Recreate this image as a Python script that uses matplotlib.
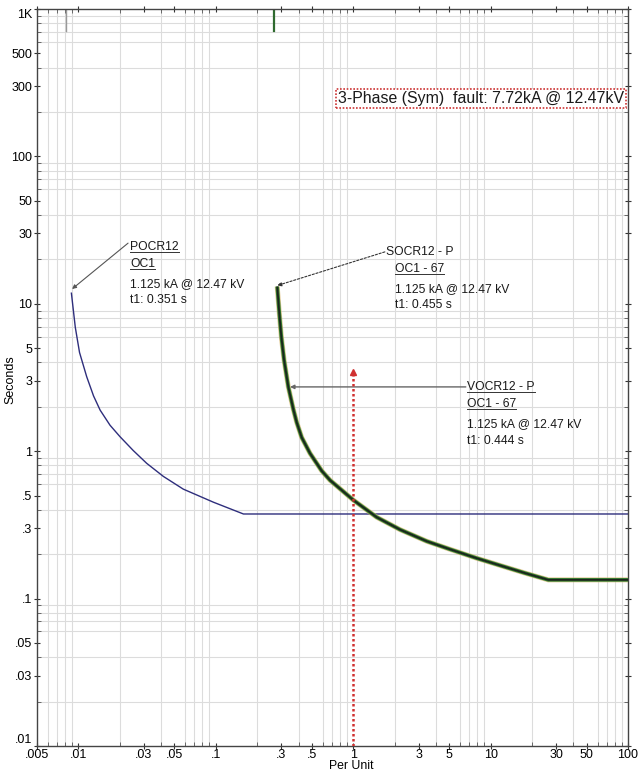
import matplotlib
matplotlib.use("Agg")
import matplotlib.pyplot as plt
import numpy as np
from matplotlib.ticker import FixedLocator, LogLocator, NullFormatter
from matplotlib.lines import Line2D

plt.rcParams['font.family'] = ['Liberation Sans', 'DejaVu Sans']

# POCR12 / OC1 curve (per unit, seconds)
pocr_pu = [0.0089, 0.0095, 0.0102, 0.0115, 0.0129, 0.0144, 0.0170, 0.0201, 0.0251,
           0.0314, 0.0415, 0.058, 0.096, 0.159, 100]
pocr_sec = [11.8, 6.92, 4.67, 3.20, 2.37, 1.90, 1.50, 1.254, 1.01,
            0.828, 0.675, 0.553, 0.451, 0.375, 0.375]

# SOCR12 - P / VOCR12 - P (OC1 - 67) curves, drawn on top of each other
socr_pu = [0.28, 0.290, 0.300, 0.314, 0.337, 0.367, 0.388, 0.422, 0.485, 0.59, 0.679,
           1.0, 1.48, 2.19, 3.43, 5.07, 7.92, 11.7, 17.8, 26.3, 100]
socr_sec = [13.1, 8.6, 5.98, 4.16, 2.74, 1.92, 1.57, 1.24, 0.968, 0.736, 0.635,
            0.467, 0.357, 0.294, 0.245, 0.216, 0.188, 0.168, 0.149, 0.134, 0.134]
vocr_pu = socr_pu
vocr_sec = socr_sec

# short marks at the top of the plot
top_marks_pu = [0.0081, 0.266]
top_marks_sec = [(710, 1000), (710, 1000)]

# fault current marker
fault_pu = 1.0
fault_top = 3.45

xticks = [0.005, 0.01, 0.03, 0.05, 0.1, 0.3, 0.5, 1, 3, 5, 10, 30, 50, 100]
xlabels = ['.005', '.01', '.03', '.05', '.1', '.3', '.5', '1', '3', '5', '10', '30', '50', '100']
yticks = [1000, 500, 300, 100, 50, 30, 10, 5, 3, 1, 0.5, 0.3, 0.1, 0.05, 0.03, 0.01]
ylabels = ['1K', '500', '300', '100', '50', '30', '10', '5', '3', '1', '.5', '.3', '.1', '.05', '.03', '.01']

fig = plt.figure(figsize=(6.38, 7.72), dpi=100)
ax = fig.add_axes([37/638, 1-746/772, 591/638, 737/772])
ax.set_xscale('log')
ax.set_yscale('log')
ax.set_xlim(0.005, 100)
ax.set_ylim(0.01, 1000)

# grid
ax.xaxis.set_minor_locator(LogLocator(base=10, subs=np.arange(1, 10)))
ax.yaxis.set_minor_locator(LogLocator(base=10, subs=np.arange(1, 10)))
ax.xaxis.set_minor_formatter(NullFormatter())
ax.yaxis.set_minor_formatter(NullFormatter())
ax.grid(True, which='minor', color='#dcdcdc', lw=0.8)
ax.set_axisbelow(True)
ax.xaxis.set_major_locator(FixedLocator(xticks))
ax.yaxis.set_major_locator(FixedLocator(yticks))
ax.set_xticklabels(xlabels)
ax.set_yticklabels(ylabels)
ax.tick_params(which='major', direction='inout', length=5, width=0.8, labelsize=9,
               color='#333333', pad=1, top=True, right=True)
ax.tick_params(axis='x', which='major', pad=0)
ax.tick_params(which='minor', direction='in', length=3, width=0.6, color='#555555',
               top=True, right=True)
for sp in ax.spines.values():
    sp.set_color('#444444')
    sp.set_linewidth(1.0)

ylab = ax.get_yticklabels()
ylab[0].set_va('top')
ylab[-1].set_va('bottom')

fig.text(351/638, 1 - 766/772, 'Per Unit', fontsize=8.8, ha='center', va='center')
fig.text(10/638, 1 - 380/772, 'Seconds', fontsize=9, ha='center', va='center',
         rotation=90)

# curves
ax.plot(pocr_pu, pocr_sec, color='#2e2e7c', lw=1.0, zorder=3)
ax.plot(socr_pu, socr_sec, color='#d6b46a', lw=3.6, alpha=0.7, zorder=3,
        solid_capstyle='butt')
ax.plot(socr_pu, socr_sec, color='#2f7a2f', lw=2.6, zorder=4, solid_capstyle='butt')
ax.plot(vocr_pu, vocr_sec, color='#1c241c', lw=1.3, zorder=5, solid_capstyle='butt')

ax.plot([top_marks_pu[0]] * 2, top_marks_sec[0], color='#999999', lw=1.0)
ax.plot([top_marks_pu[1]] * 2, top_marks_sec[1], color='#2f6a2f', lw=1.6)

# fault marker
ax.plot([fault_pu, fault_pu], [0.01, fault_top], color='#d03030', lw=1.8,
        linestyle=(0, (1, 1)), zorder=6)
ax.plot([fault_pu], [fault_top], marker='^', color='#d03030', ms=5, zorder=6)

# annotations
arrow_kw = dict(arrowstyle='-|>', color='#555555', lw=0.8, mutation_scale=6,
                shrinkA=0, shrinkB=0)
ax.annotate('', xy=(0.009, 12.6), xytext=(0.023, 25.8), arrowprops=arrow_kw)
ax.annotate('', xy=(0.28, 13.3), xytext=(1.70, 22.5),
            arrowprops=dict(arrow_kw, linestyle=(0, (2, 1.5)), color='#333333'))
ax.annotate('', xy=(0.347, 2.73), xytext=(6.6, 2.73),
            arrowprops=dict(arrow_kw, color='#666666', lw=1.0))

def px(x, y):
    return (x / 638, 1 - y / 772)

fs = 8.7
labels = [
    ('POCR12', 130, 247, True), ('OC1', 130, 264, True),
    ('1.125 kA @ 12.47 kV', 130, 284, False), ('t1: 0.351 s', 130, 300, False),
    ('SOCR12 - P', 386, 252, False), ('OC1 - 67', 395, 269, True),
    ('1.125 kA @ 12.47 kV', 395, 289, False), ('t1: 0.455 s', 395, 305, False),
    ('VOCR12 - P', 467, 387, True), ('OC1 - 67', 467, 404, True),
    ('1.125 kA @ 12.47 kV', 467, 424, False), ('t1: 0.444 s', 467, 441, False),
]
texts = []
for s, x, y, ul in labels:
    t = fig.text(*px(x, y), s, fontsize=fs, ha='left', va='center', color='#1a1a1a')
    texts.append((t, ul))

box = fig.text(*px(338, 98.5), '3-Phase (Sym)  fault: 7.72kA @ 12.47kV', fontsize=11.4,
               ha='left', va='center', color='#1a1a1a',
               bbox=dict(boxstyle='square,pad=0.12', fc='white', ec='#cc3333',
                         lw=1.2, linestyle=(0, (1, 1))))

fig.canvas.draw()
r = fig.canvas.get_renderer()
for t, ul in texts:
    if not ul:
        continue
    bb = t.get_window_extent(r)
    y = bb.y0 + 1
    fig.add_artist(Line2D([bb.x0 / 638, bb.x1 / 638], [y / 772, y / 772],
                          transform=fig.transFigure, color='#333333', lw=0.7))

fig.savefig('out.png', dpi=100)
